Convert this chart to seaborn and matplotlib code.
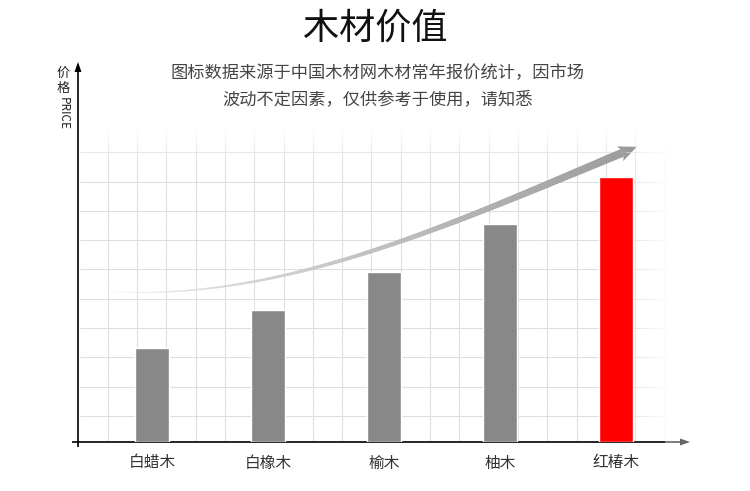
import numpy as np
import pandas as pd
import matplotlib
matplotlib.use("Agg")
import matplotlib.pyplot as plt
from matplotlib.collections import LineCollection
from matplotlib.patches import Polygon
import seaborn as sns

# chart data (relative price level)
woods = ["白蜡木", "白橡木", "榆木", "柚木", "红椿木"]
price = [94, 132, 170, 218, 265]
bar_colors = ["#888888", "#888888", "#888888", "#888888", "#ff0000"]

title = "木材价值"
note = "图标数据来源于中国木材网木材常年报价统计，因市场\n波动不定因素，仅供参考于使用，请知悉"

# decorative trend arrow, in figure pixels
arrow_x = [115, 175, 250, 300, 370, 430, 490, 550, 610, 622]
arrow_y = [291, 292, 283, 272, 250, 230, 208, 185, 158, 152]

sns.set_theme(style="white")
plt.rcParams["font.family"] = ["Noto Sans CJK SC", "DejaVu Sans"]

W, H = 750, 491
fig = plt.figure(figsize=(W / 100, H / 100), dpi=100)

# background layer in pixel coordinates: grid, axis lines, arrow
bg = fig.add_axes([0, 0, 1, 1], zorder=0)
bg.set_xlim(0, W)
bg.set_ylim(H, 0)
bg.axis("off")


def fade(x, y):
    fx = np.clip((668 - x) / 45, 0, 1)
    fy = np.clip((y - 128) / 35, 0, 1)
    return fx * fy


segs, cols = [], []
step = 29.3
for gx in np.arange(107.7, 668, step):
    ys = np.linspace(125, 442, 60)
    for a, b in zip(ys[:-1], ys[1:]):
        segs.append([(gx, a), (gx, b)])
        cols.append((0.87, 0.87, 0.87, fade(gx, (a + b) / 2)))
for gy in np.arange(416, 120, -step):
    xs = np.linspace(80, 670, 80)
    for a, b in zip(xs[:-1], xs[1:]):
        segs.append([(a, gy), (b, gy)])
        cols.append((0.87, 0.87, 0.87, fade((a + b) / 2, gy)))
bg.add_collection(LineCollection(segs, colors=cols, linewidths=0.8))

# trend arrow: smooth ribbon getting thicker and darker
coef = np.polyfit(arrow_x, arrow_y, 3)
cx = np.linspace(arrow_x[0], arrow_x[-1], 200)
cy = np.polyval(coef, cx)
pts = np.column_stack([cx, cy])
rib = np.stack([pts[:-1], pts[1:]], axis=1)
t = np.linspace(0, 1, len(rib))
shade = 0.95 - 0.33 * t ** 0.8
rib_cols = [(s, s, s, 1) for s in shade]
bg.add_collection(LineCollection(rib, colors=rib_cols,
                                 linewidths=0.4 + 5.4 * t ** 1.1,
                                 capstyle="round"))
dx = cx[-1] - cx[-5]
dy = cy[-1] - cy[-5]
n = np.hypot(dx, dy)
ux, uy = dx / n, dy / n
px, py = -uy, ux
tip = (cx[-1] + 16 * ux, cy[-1] + 16 * uy)
back = (cx[-1] - 2 * ux, cy[-1] - 2 * uy)
head = [tip,
        (back[0] + 8 * px, back[1] + 8 * py),
        (cx[-1] + 2 * ux, cy[-1] + 2 * uy),
        (back[0] - 8 * px, back[1] - 8 * py)]
bg.add_patch(Polygon(head, closed=True, color="#9a9a9a", lw=0))

# axis lines with arrowheads
bg.plot([78, 78], [447, 70], color="black", lw=1.2, solid_capstyle="butt")
bg.add_patch(Polygon([(78, 62), (74.5, 72), (81.5, 72)], color="black", lw=0))
bg.plot([72, 665], [442, 442], color="black", lw=1.2, solid_capstyle="butt")
bg.plot([665, 682], [442, 442], color="#666666", lw=1.2, solid_capstyle="butt")
bg.add_patch(Polygon([(690, 442), (680, 438.5), (680, 445.5)], color="#666666", lw=0))

# texts
bg.text(375, 29, title, ha="center", va="center", fontsize=26,
        fontweight="medium", color="#111111")
bg.text(378, 86, note, ha="center", va="center", fontsize=12.4,
        color="#444444", linespacing=1.55)
bg.text(63, 73, "价", ha="center", va="center", fontsize=9.5, color="#222222")
bg.text(63, 88, "格", ha="center", va="center", fontsize=9.5, color="#222222")
bg.text(63, 113, "PRICE", ha="center", va="center", fontsize=8.5,
        color="#222222", rotation=-90)

# main data axes
ax = fig.add_axes([78 / W, (H - 442) / H, (688 - 78) / W, (442 - 64) / H], zorder=1)
ax.patch.set_alpha(0)
df = pd.DataFrame({"wood": woods, "price": price})
sns.barplot(data=df, x="wood", y="price", hue="wood", palette=bar_colors,
            width=0.293, saturation=1, legend=False, ax=ax)
ax.set_xlim(-0.638, 4.62)
ax.set_ylim(0, 378)
ax.set_xlabel("")
ax.set_ylabel("")
ax.set_yticks([])
ax.tick_params(axis="x", length=0, pad=9, labelsize=11.3, labelcolor="#333333")
for s in ax.spines.values():
    s.set_visible(False)

fig.savefig("out.png", dpi=100)
